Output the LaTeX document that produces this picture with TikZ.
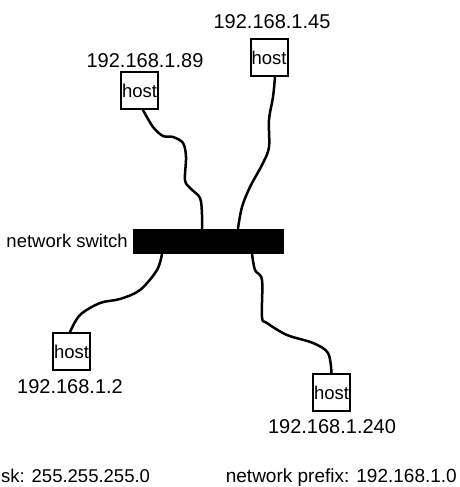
\documentclass[tikz,border=0pt]{standalone}
\usepackage{fontspec}
\setmainfont{Liberation Sans}
\begin{document}
\begin{tikzpicture}[x=1pt,y=-1pt,
  every node/.style={font=\fontsize{18.5}{20}\selectfont},
  hostbox/.style={draw,line width=2pt,minimum size=37pt,inner sep=0pt},
  switchbox/.style={fill=black,minimum width=151pt,minimum height=25pt,inner sep=0pt},
  iplabel/.style={anchor=base,inner sep=0pt,font=\fontsize{20}{22}\selectfont},
  wire/.style={line width=2.5pt,line cap=round,line join=round}]
\useasboundingbox (0,0) rectangle (459,487);
\node[switchbox] (sw) at (208.5,241) {};
\node[anchor=base east,inner sep=0pt] (swl) at (128,247) {network switch};
\node[hostbox] (h89) at (139.5,90.5) {host};
\node[hostbox] (h45) at (269,57.5) {host};
\node[hostbox] (h2) at (71.5,351.5) {host};
\node[hostbox] (h240) at (331.5,392.5) {host};
\node[iplabel] (l89) at (145,67) {192.168.1.89};
\node[iplabel] (l45) at (272,29) {192.168.1.45};
\node[iplabel] (l2) at (70,393) {192.168.1.2};
\node[iplabel] (l240) at (332,433) {192.168.1.240};
\node[anchor=base west,inner sep=0pt] (mask) at (1,482) {sk: 255.255.255.0};
\node[anchor=base east,inner sep=0pt,font=\fontsize{19}{21}\selectfont] (prefix) at (457,482) {network prefix: 192.168.1.0};
\draw[wire] plot[smooth,tension=0.55] coordinates {([xshift=3.5pt]h89.south) (153,127) (163,136) (173,137) (183,143) (186,157) (185,180) (190,188) (200,198) (202,215) (sw.north west -| 202,0)};
\draw[wire] plot[smooth,tension=0.55] coordinates {([xshift=6pt]h45.south) (273,97) (269,120) (269,147) (263,163) (250,187) (242,207) (sw.north west -| 238,0)};
\draw[wire] plot[smooth,tension=0.55] coordinates {(sw.south west -| 162,0) (157,270) (140,290) (120,299) (100,303) (80,315) ([xshift=-1.5pt]h2.north)};
\draw[wire] plot[smooth,tension=0.55] coordinates {(sw.south west -| 252,0) (255,270) (262,280) (262,317) (267,323) (287,335) (313,343) (328,353) (h240.north)};
\end{tikzpicture}
\end{document}
